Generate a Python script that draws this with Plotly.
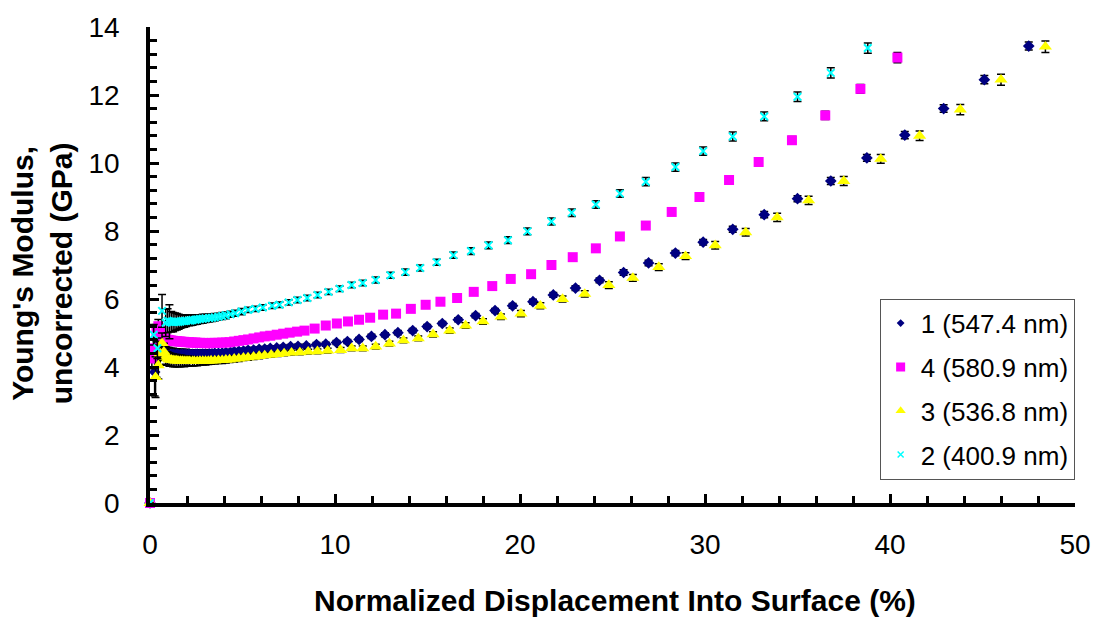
import plotly.graph_objects as go

# ---------------- data ----------------
s1_name = "1 (547.4 nm)"
s1_x = [0, 0.25, 0.35, 0.45, 0.55, 0.65, 0.75, 0.85, 0.95,
        1.05, 1.15, 1.25, 1.35, 1.45, 1.55, 1.65, 1.75, 1.85, 1.95,
        2.1, 2.2, 2.3, 2.45, 2.55, 2.7, 2.85,
        3.0, 3.2, 3.35, 3.5, 3.7, 3.9,
        4.1, 4.35, 4.55, 4.8,
        5.05, 5.3, 5.6, 5.9,
        6.2, 6.5, 6.85,
        7.2, 7.6,
        8.0,
        8.45, 9.0, 9.5, 10.08, 10.67, 11.3, 11.97, 12.7, 13.4, 14.2, 14.98, 15.8, 16.66, 17.6,
        18.65, 19.6, 20.7, 21.8, 23.0, 24.3, 25.6, 26.95, 28.4, 29.9, 31.5, 33.2, 35.0, 36.8,
        38.75, 40.8, 42.9, 45.1, 47.5]
s1_y = [0, 3.85, 4.2, 4.62, 4.55, 4.45, 4.42, 4.40, 4.38,
        4.38, 4.37, 4.37, 4.36, 4.37, 4.36, 4.36, 4.37, 4.36, 4.37,
        4.37, 4.36, 4.37, 4.37, 4.38, 4.37, 4.38,
        4.38, 4.39, 4.39, 4.40, 4.40, 4.41,
        4.42, 4.43, 4.45, 4.46,
        4.47, 4.49, 4.50, 4.52,
        4.53, 4.55, 4.56,
        4.58, 4.60,
        4.61,
        4.62, 4.66, 4.67, 4.72, 4.75, 4.81, 4.90, 4.95, 5.01, 5.07, 5.19, 5.28, 5.39, 5.51,
        5.66, 5.80, 5.92, 6.12, 6.32, 6.55, 6.78, 7.06, 7.35, 7.67, 8.05, 8.48, 8.95, 9.47,
        10.15, 10.82, 11.60, 12.45, 13.44]
s1_err = [0, 0.7, 0.5, 0.35, 0.3, 0.25, 0.22, 0.2, 0.2,
          0.19, 0.18, 0.18, 0.17, 0.17, 0.16, 0.16, 0.15, 0.15, 0.15,
          0.14, 0.14, 0.13, 0.13, 0.13, 0.12, 0.12,
          0.12, 0.11, 0.11, 0.1, 0.1, 0.1,
          0.09, 0.09, 0.09, 0.08,
          0.08, 0.08, 0.07, 0.07,
          0.07, 0.07, 0.06,
          0.06, 0.06,
          0.06,
          0.06, 0.06, 0.06, 0.06, 0.06, 0.06, 0.06, 0.06, 0.06, 0.06, 0.06, 0.06, 0.06, 0.06,
          0.06, 0.07, 0.07, 0.07, 0.07, 0.07, 0.08, 0.08, 0.08, 0.08, 0.09, 0.09, 0.09, 0.1,
          0.1, 0.11, 0.11, 0.12, 0.12]

s4_name = "4 (580.9 nm)"
s4_x = [0, 0.1, 0.25, 0.35, 0.45, 0.55, 0.65, 0.75, 0.85, 0.95,
        1.05, 1.15, 1.25, 1.35, 1.45, 1.55, 1.65, 1.75, 1.85, 1.95,
        2.1, 2.2, 2.3, 2.45, 2.55, 2.7, 2.85,
        3.0, 3.2, 3.35, 3.5, 3.7, 3.9,
        4.1, 4.3, 4.55, 4.8,
        5.05, 5.3, 5.6, 5.9,
        6.2, 6.5, 6.85,
        7.2, 7.55, 7.95,
        8.35, 8.9, 9.5, 10.1, 10.7, 11.3, 11.9, 12.6, 13.3, 14.1, 14.9, 15.7, 16.6, 17.5, 18.5,
        19.5, 20.6, 21.7, 22.85, 24.1, 25.4, 26.8, 28.2, 29.7, 31.3, 32.9, 34.7, 36.5, 38.4, 40.4]
s4_y = [0, 4.25, 4.55, 5.0, 5.2, 5.05, 4.92, 4.86, 4.82, 4.80,
        4.79, 4.78, 4.77, 4.76, 4.76, 4.75, 4.75, 4.74, 4.74, 4.73,
        4.73, 4.72, 4.72, 4.72, 4.71, 4.71, 4.71,
        4.70, 4.70, 4.71, 4.71, 4.71, 4.72,
        4.72, 4.73, 4.75, 4.77,
        4.79, 4.81, 4.84, 4.87,
        4.90, 4.92, 4.95,
        4.98, 5.01, 5.04,
        5.07, 5.13, 5.22, 5.28, 5.34, 5.39, 5.45, 5.54, 5.57, 5.71, 5.83, 5.92, 6.03, 6.21, 6.38,
        6.59, 6.73, 7.00, 7.23, 7.49, 7.84, 8.16, 8.56, 9.00, 9.50, 10.03, 10.67, 11.40, 12.18, 13.10]
s4_err = [0, 0.3, 0.3, 0.25, 0.2, 0.18, 0.15, 0.13, 0.12, 0.11,
          0.1, 0.1, 0.09, 0.09, 0.09, 0.08, 0.08, 0.08, 0.08, 0.07,
          0.07, 0.07, 0.07, 0.07, 0.07, 0.07, 0.07,
          0.06, 0.06, 0.06, 0.06, 0.06, 0.06,
          0.06, 0.06, 0.06, 0.06,
          0.05, 0.05, 0.05, 0.05,
          0.05, 0.05, 0.05,
          0.05, 0.05, 0.05,
          0.05, 0.05, 0.05, 0.05, 0.05, 0.05, 0.05, 0.05, 0.05, 0.05, 0.05, 0.05, 0.05, 0.05, 0.05,
          0.06, 0.06, 0.06, 0.06, 0.06, 0.07, 0.07, 0.08, 0.08, 0.09, 0.1, 0.11, 0.12, 0.13, 0.15]

s3_name = "3 (536.8 nm)"
s3_x = [0, 0.3, 0.45, 0.55, 0.65, 0.75, 0.85, 0.95,
        1.05, 1.15, 1.25, 1.35, 1.45, 1.55, 1.65, 1.75, 1.85, 1.95,
        2.05, 2.15, 2.3, 2.4, 2.55, 2.7, 2.85,
        3.0, 3.15, 3.3, 3.5, 3.7, 3.9,
        4.1, 4.3, 4.55, 4.8,
        5.05, 5.3, 5.6, 5.9,
        6.2, 6.55, 6.9,
        7.25, 7.65,
        8.1, 8.55,
        9.05,
        9.6, 10.3, 10.9, 11.5, 12.2, 12.94, 13.7, 14.5, 15.3, 16.2, 17.06, 18.0, 18.97, 20.05,
        21.1, 22.3, 23.5, 24.8, 26.1, 27.5, 28.95, 30.55, 32.2, 33.9, 35.6, 37.5, 39.5, 41.6,
        43.8, 46.0, 48.4]
s3_y = [0, 3.7, 4.05, 4.4, 4.7, 4.45, 4.3, 4.25,
        4.22, 4.21, 4.2, 4.19, 4.19, 4.18, 4.18, 4.18, 4.17, 4.17,
        4.17, 4.17, 4.17, 4.17, 4.17, 4.18, 4.18,
        4.18, 4.18, 4.19, 4.19, 4.2, 4.2,
        4.21, 4.22, 4.24, 4.25,
        4.27, 4.28, 4.3, 4.32,
        4.34, 4.36, 4.38,
        4.4, 4.42,
        4.43, 4.45,
        4.46,
        4.48, 4.50, 4.55, 4.55, 4.60, 4.69, 4.78, 4.84, 4.96, 5.07, 5.22, 5.34, 5.48, 5.57,
        5.80, 6.00, 6.15, 6.41, 6.62, 6.94, 7.26, 7.58, 7.96, 8.40, 8.90, 9.47, 10.12, 10.80,
        11.57, 12.45, 13.42]
s3_err = [0, 0.6, 0.4, 0.35, 0.3, 0.25, 0.22, 0.2,
          0.2, 0.19, 0.19, 0.18, 0.18, 0.17, 0.17, 0.16, 0.16, 0.15,
          0.15, 0.14, 0.14, 0.13, 0.13, 0.12, 0.12,
          0.12, 0.11, 0.11, 0.1, 0.1, 0.1,
          0.09, 0.09, 0.09, 0.09,
          0.08, 0.08, 0.08, 0.08,
          0.07, 0.07, 0.07,
          0.07, 0.07,
          0.07, 0.07,
          0.07,
          0.07, 0.07, 0.07, 0.07, 0.07, 0.07, 0.07, 0.07, 0.08, 0.08, 0.08, 0.08, 0.08, 0.09,
          0.09, 0.09, 0.09, 0.1, 0.1, 0.1, 0.1, 0.11, 0.11, 0.12, 0.12, 0.13, 0.13, 0.14,
          0.15, 0.16, 0.17]

s2_name = "2 (400.9 nm)"
s2_x = [0, 0.2, 0.4, 0.65, 0.85, 0.95,
        1.05, 1.15, 1.25, 1.35, 1.45, 1.55, 1.65, 1.75, 1.85, 1.95,
        2.1, 2.2, 2.3, 2.45, 2.55, 2.7, 2.85,
        3.0, 3.2, 3.35, 3.5, 3.7, 3.9,
        4.1, 4.35,
        4.6, 4.95, 5.3, 5.7, 6.1, 6.6, 7.0, 7.5, 7.97,
        8.5, 9.06, 9.65, 10.25, 10.9, 11.5, 12.2, 13.0, 13.8, 14.6, 15.5, 16.4, 17.35, 18.3,
        19.35, 20.4, 21.7, 22.8, 24.1, 25.4, 26.8, 28.4, 29.9, 31.5, 33.2, 35.0, 36.8, 38.8]
s2_y = [0, 4.95, 4.55, 5.65, 5.3, 5.36,
        5.33, 5.33, 5.32, 5.33, 5.33, 5.33, 5.34, 5.35, 5.35, 5.36,
        5.37, 5.37, 5.38, 5.39, 5.40, 5.41, 5.42,
        5.43, 5.44, 5.45, 5.46, 5.48, 5.50,
        5.52, 5.55,
        5.58, 5.63, 5.68, 5.71, 5.75, 5.80, 5.83, 5.90, 5.97,
        6.03, 6.12, 6.21, 6.30, 6.41, 6.47, 6.56, 6.70, 6.79, 6.91, 7.08, 7.29, 7.41, 7.58,
        7.73, 7.99, 8.28, 8.54, 8.78, 9.10, 9.45, 9.88, 10.35, 10.78, 11.37, 11.95, 12.65, 13.38]
s2_err = [0, 0.3, 0.3, 0.48, 0.4, 0.35,
          0.5, 0.3, 0.28, 0.26, 0.24, 0.22, 0.2, 0.19, 0.18, 0.17,
          0.16, 0.15, 0.15, 0.14, 0.14, 0.13, 0.13,
          0.12, 0.12, 0.11, 0.11, 0.1, 0.1,
          0.1, 0.09,
          0.09, 0.09, 0.08, 0.08, 0.08, 0.08, 0.08, 0.08, 0.08,
          0.08, 0.08, 0.08, 0.08, 0.08, 0.08, 0.09, 0.09, 0.09, 0.09, 0.09, 0.09, 0.1, 0.1,
          0.1, 0.1, 0.1, 0.11, 0.11, 0.11, 0.12, 0.12, 0.12, 0.13, 0.13, 0.14, 0.15, 0.15]

x_title = "Normalized Displacement Into Surface (%)"
y_title = "Young's Modulus,<br>uncorrected (GPa)"

for a, b, c in [(s1_x, s1_y, s1_err), (s4_x, s4_y, s4_err), (s3_x, s3_y, s3_err), (s2_x, s2_y, s2_err)]:
    assert len(a) == len(b) == len(c), (len(a), len(b), len(c))

# ---------------- styling ----------------
FONT = "Arial, Liberation Sans, sans-serif"
series = [
    (s1_name, s1_x, s1_y, s1_err, dict(symbol="diamond", size=9, color="#000080"),
     dict(symbol="diamond", size=6, color="#000080")),
    (s4_name, s4_x, s4_y, s4_err, dict(symbol="square", size=10, color="#FF00FF"),
     dict(symbol="square", size=9, color="#FF00FF")),
    (s3_name, s3_x, s3_y, s3_err, dict(symbol="triangle-up", size=11.5, color="#FFFF00"),
     dict(symbol="triangle-up", size=9, color="#FFFF00")),
    (s2_name, s2_x, s2_y, s2_err,
     dict(symbol="x-thin", size=7.5, color="#00FFFF", line=dict(color="#00FFFF", width=2)),
     dict(symbol="x-thin", size=6, color="#00FFFF", line=dict(color="#00FFFF", width=1.5))),
]

fig = go.Figure()
for name, xs, ys, es, mk, _ in series:
    fig.add_trace(go.Scatter(
        x=xs, y=ys, mode="markers", marker=mk, showlegend=False, cliponaxis=False,
        error_y=dict(type="data", array=es, color="black", thickness=1.5, width=4),
        hoverinfo="skip"))
for i, (name, xs, ys, es, mk, lmk) in enumerate(series):
    fig.add_trace(go.Scatter(
        x=[None], y=[None], mode="markers", marker=lmk, name=name,
        legendgroup=f"g{i}", showlegend=True))

W, H = 1103, 622
L, R, T, B = 150, 25, 23, 119

axis_common = dict(
    showgrid=False, zeroline=False, showline=True, linecolor="black", linewidth=3.5,
    ticks="inside", ticklen=9, tickwidth=3, tickcolor="black",
    tickfont=dict(family=FONT, size=28, color="black"),
)

fig.update_layout(
    width=W, height=H,
    margin=dict(l=L, r=R, t=T, b=B, pad=0),
    paper_bgcolor="white", plot_bgcolor="white",
    font=dict(family=FONT, color="black"),
    xaxis=dict(range=[0, 50], tick0=0, dtick=10, ticklabelstandoff=14,
               minor=dict(dtick=2, ticks="inside", ticklen=7, tickwidth=3, tickcolor="black"),
               **axis_common),
    yaxis=dict(range=[0, 14], tick0=0, dtick=2, ticklabelstandoff=21,
               minor=dict(dtick=0.4, ticks="inside", ticklen=7, tickwidth=3, tickcolor="black"),
               **axis_common),
    legend=dict(
        x=(882 - L) / (W - L - R), y=(H - B - 297) / (H - T - B),
        xanchor="left", yanchor="top",
        bgcolor="white", bordercolor="#555555", borderwidth=1,
        font=dict(family=FONT, size=26, color="black"),
        tracegroupgap=7, itemsizing="trace",
    ),
    annotations=[
        dict(text=x_title, xref="paper", yref="paper",
             x=(617 - L) / (W - L - R), y=(H - B - 601) / (H - T - B),
             xanchor="center", yanchor="middle", showarrow=False,
             font=dict(family=FONT, size=30, color="black", weight="bold")),
        dict(text=y_title, xref="paper", yref="paper", textangle=-90,
             x=(42 - L) / (W - L - R), y=(H - B - 271) / (H - T - B),
             xanchor="center", yanchor="middle", showarrow=False,
             font=dict(family=FONT, size=30, color="black", weight="bold")),
    ],
)

fig.write_html("out.html")
